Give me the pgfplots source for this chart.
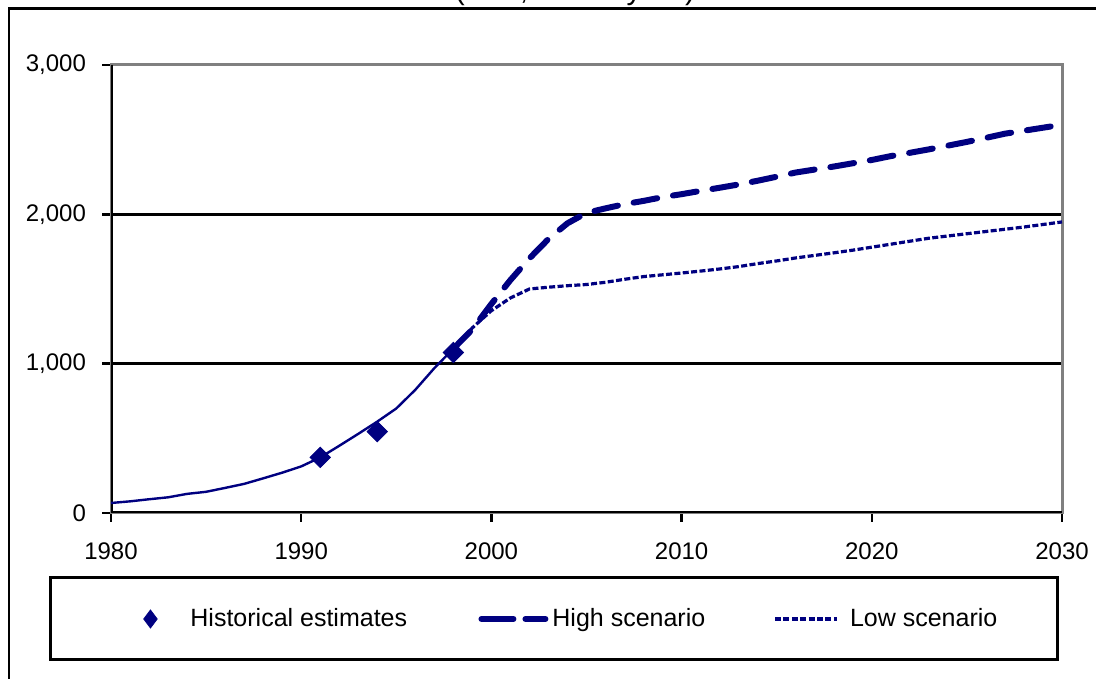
\documentclass[border=0pt]{standalone}
\usepackage{fontspec}
\setmainfont{Liberation Sans}
\usepackage{pgfplots}
\pgfplotsset{compat=1.18}
\definecolor{navy}{RGB}{0,0,128}
\definecolor{bordergray}{RGB}{128,128,128}
\pgfplotstableread{
year value
1980 67
1981 78
1982 92
1983 105
1984 128
1985 142
1986 168
1987 195
1988 232
1989 270
1990 312
1991 372
1992 450
1993 530
1994 612
1995 700
1996 825
1997 970
1998 1100
}\histline
\pgfplotstableread{
year value
1998 1100
1999 1230
2000 1400
2001 1560
2002 1705
2003 1835
2004 1940
2005 2010
2006 2040
2007 2068
2008 2090
2009 2115
2010 2135
2011 2157
2012 2178
2013 2200
2014 2225
2015 2252
2016 2280
2017 2300
2018 2320
2019 2342
2020 2364
2021 2390
2022 2412
2023 2435
2024 2460
2025 2485
2026 2512
2027 2540
2028 2560
2029 2580
2030 2600
}\high
\pgfplotstableread{
year value
1998 1100
1999 1240
2000 1355
2001 1440
2002 1500
2003 1512
2004 1522
2005 1530
2006 1545
2007 1565
2008 1583
2009 1595
2010 1607
2011 1620
2012 1634
2013 1650
2014 1670
2015 1688
2016 1708
2017 1725
2018 1742
2019 1760
2020 1780
2021 1800
2022 1820
2023 1840
2024 1855
2025 1870
2026 1885
2027 1900
2028 1915
2029 1932
2030 1949
}\low
\begin{document}
\begin{tikzpicture}
\clip (0,0) rectangle (548pt,339.5pt);
\draw[black, line width=1.5pt] (4pt,335pt) -- (548pt,335pt);
\draw[black, line width=1pt] (4.5pt,335.75pt) -- (4.5pt,0pt);
\node[anchor=base, inner sep=0pt, font=\fontsize{15}{18}\selectfont] at (287.5pt,339.8pt) {(MtC, total a year)};
\draw[black, line width=1.5pt] (25pt,50.5pt) rectangle (528.5pt,9.5pt);
\begin{axis}[
  at={(55.5pt,83pt)}, anchor=south west,
  width=475.5pt, height=224pt, scale only axis,
  xmin=1980, xmax=2030, ymin=0, ymax=3000,
  xtick={1980,1990,2000,2010,2020,2030},
  ytick={0,1000,2000,3000},
  xtick pos=bottom, ytick pos=left,
  tick align=outside, major tick length=4.5pt,
  tick style={black, line width=1.2pt},
  ymajorgrids, grid style={black, line width=1.5pt},
  axis line style={bordergray, line width=1.5pt},
  tick label style={font=\fontsize{12}{14}\selectfont},
  /pgf/number format/assume math mode=true,
  xticklabel style={/pgf/number format/1000 sep={}, yshift=-7pt},
  yticklabel style={/pgf/number format/1000 sep={,}, xshift=-4.5pt},
  legend columns=3,
  legend style={at={(-0.001,-0.2366)}, anchor=west, draw=none, fill=none,
    inner sep=0pt, column sep=0pt, nodes={inner sep=0pt}, cells={anchor=west},
    font=\fontsize{12.5}{15}\selectfont},
]
\draw[black, line width=1.5pt] (rel axis cs:0,1) -- (rel axis cs:0,0) -- (rel axis cs:1,0);
\addplot[navy, line width=1.2pt, line join=round, forget plot] table[x=year, y=value] {\histline};
\addplot[only marks, navy, mark=square*, mark size=3.6pt, mark options={rotate=45, fill=navy, draw=navy},
  legend image code/.code={\path[draw=none, fill=none] (0pt,-5pt) rectangle (40pt,5pt);
    \draw[navy, mark=diamond*, mark size=4.5pt, mark options={fill=navy, draw=navy}] plot coordinates {(20pt,0pt)};}]
  coordinates {(1991,372) (1994,545) (1998,1075)};
\addlegendentry{\makebox[144pt][l]{Historical estimates}}
\addplot[navy, line width=3pt, line cap=round, dash pattern=on 12pt off 8pt,
  legend image code/.code={\path[draw=none, fill=none] (0pt,-5pt) rectangle (37pt,5pt);
    \draw[navy, line width=3pt, line cap=round, dash pattern=on 16pt off 6pt] (1.5pt,0pt) -- (33.5pt,0pt);}]
  table[x=year, y=value] {\high};
\addlegendentry{\makebox[110.5pt][l]{High scenario}}
\addplot[navy, line width=1.6pt, dash pattern=on 3pt off 1.2pt,
  legend image code/.code={\path[draw=none, fill=none] (0pt,-5pt) rectangle (37.5pt,5pt);
    \draw[navy, line width=1.6pt, dash pattern=on 3pt off 1.2pt] (0pt,0pt) -- (31pt,0pt);}]
  table[x=year, y=value] {\low};
\addlegendentry{\makebox[75pt][l]{Low scenario}}
\end{axis}
\end{tikzpicture}
\end{document}
